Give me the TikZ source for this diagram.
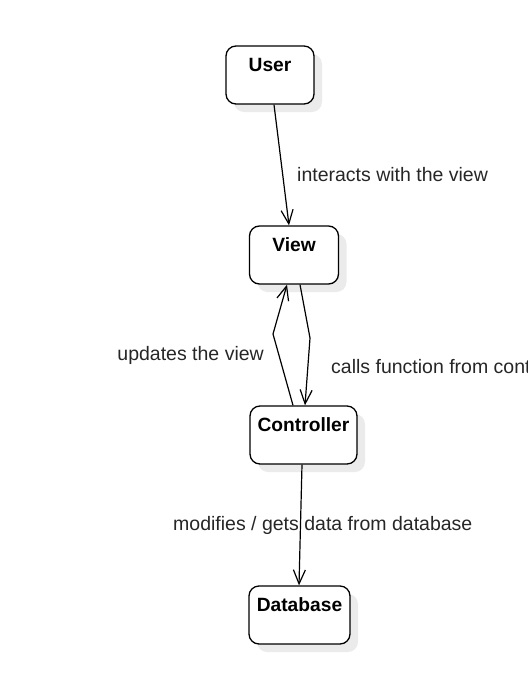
\documentclass[tikz,border=0pt]{standalone}
\usepackage{fontspec}
\setmainfont{Liberation Sans}
\usetikzlibrary{arrows.meta,shadows}
\begin{document}
\begin{tikzpicture}[x=1pt,y=-1pt,
  box/.style={draw=black, line width=1.3pt, rounded corners=10pt, fill=white,
    drop shadow={shadow xshift=8pt, shadow yshift=-8pt, fill=black!8, opacity=1},
    inner sep=0pt, minimum height=58pt},
  boxtext/.style={font=\fontsize{19.2}{22}\selectfont\bfseries, anchor=base, inner sep=0pt},
  lbl/.style={font=\fontsize{19.5}{23}\selectfont, text=black!85, inner sep=0pt},
  conn/.style={line width=1.2pt, -{Straight Barb[length=14pt,width=12pt]}}
]
\useasboundingbox (0,0) rectangle (528,673);
% boxes
\node[box, minimum width=88pt] (user) at (270,75) {};
\node[box, minimum width=89pt] (view) at (294,255) {};
\node[box, minimum width=107pt] (ctrl) at (303.5,435) {};
\node[box, minimum width=101pt] (db) at (299.5,615) {};
% box texts
\node[boxtext] (usert) at ([yshift=-26.5pt]user.north) {User};
\node[boxtext] (viewt) at ([yshift=-26pt]view.north) {View};
\node[boxtext] (ctrlt) at ([yshift=-26pt]ctrl.north) {Controller};
\node[boxtext] (dbt) at ([yshift=-26pt]db.north) {Database};
% connectors
\draw[conn] ([xshift=4pt]user.south) -- ([xshift=-5pt]view.north);
\draw[conn] ([xshift=-10.5pt]ctrl.north) -- (273,334) -- ([xshift=-7pt]view.south);
\draw[conn] ([xshift=6pt]view.south) -- (310,338) -- ([xshift=1.5pt]ctrl.north);
\draw[conn] ([xshift=-1.5pt]ctrl.south) -- ([xshift=-0.5pt]db.north);
% labels
\node[lbl, anchor=west] (l1) at (297,175) {interacts with the view};
\node[lbl, anchor=east] (l2) at (264,355) {updates the view};
\node[lbl, anchor=west] (l3) at (331,367) {calls function from controller};
\node[lbl, anchor=west] (l4) at (173,525) {modifies / gets data from database};
\end{tikzpicture}
\end{document}
